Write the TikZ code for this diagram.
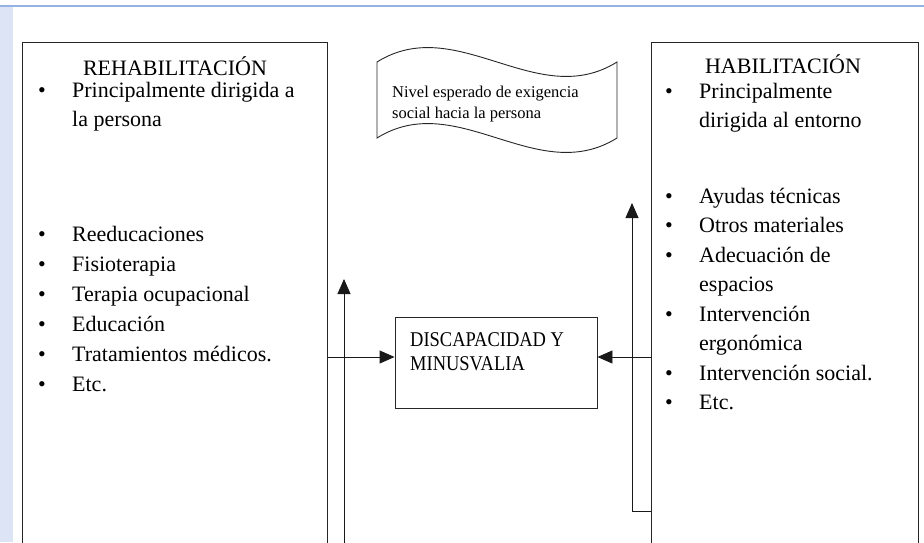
\documentclass[tikz,border=0pt]{standalone}
\usepackage{fontspec}
\setmainfont{Liberation Serif}
\newfontfamily\narrowfont[FakeStretch=0.88]{Liberation Serif}
\usetikzlibrary{arrows.meta}

\definecolor{framebg}{RGB}{221,228,245}
\definecolor{frameline}{RGB}{150,178,226}

\begin{document}
\begin{tikzpicture}[
    x = 1pt, y = -1pt,
    panel/.style = {draw = black!85, line width = 0.9pt, anchor = north west, inner sep = 0pt},
    head/.style = {font = \fontsize{22}{26}\selectfont, anchor = base, inner sep = 0pt},
    lst/.style = {font = \fontsize{22}{29.5}\selectfont, anchor = base west, inner sep = 0pt},
    arr/.style = {draw = black!90, line width = 0.9pt, -{Triangle[length = 15pt, width = 13pt]}}
]
\useasboundingbox (0,0) rectangle (924,542);
\clip (0,0) rectangle (924,542);

% page frame
\fill[framebg] (0,6) rectangle (13,542);
\draw[frameline, line width = 1.5pt] (0,6) -- (924,6);

% the two columns
\node[panel, minimum width = 305pt, minimum height = 560pt] (rehab) at (22,42) {};
\node[panel, minimum width = 267pt, minimum height = 560pt] (hab) at (651,42) {};

\node[head] (rehabtitle) at (175,75) {REHABILITACIÓN};
\node[head] (habtitle) at (783,73) {HABILITACIÓN};

\node[lst] (rehabaim) at (38,97) {\begin{tabular}[t]{@{}p{34pt}@{}l@{}}
    \textbullet & Principalmente dirigida a\\
                & la persona
\end{tabular}};
\node[lst, font = \fontsize{22}{30}\selectfont] (rehablist) at (38,241) {\begin{tabular}[t]{@{}p{34pt}@{}l@{}}
    \textbullet & Reeducaciones\\
    \textbullet & Fisioterapia\\
    \textbullet & Terapia ocupacional\\
    \textbullet & Educación\\
    \textbullet & Tratamientos médicos.\\
    \textbullet & Etc.
\end{tabular}};

\node[lst] (habaim) at (665,98) {\begin{tabular}[t]{@{}p{34pt}@{}l@{}}
    \textbullet & Principalmente\\
                & dirigida al entorno
\end{tabular}};
\node[lst] (hablist) at (665,203) {\begin{tabular}[t]{@{}p{34pt}@{}l@{}}
    \textbullet & Ayudas técnicas\\
    \textbullet & Otros materiales\\
    \textbullet & Adecuación de\\
                & espacios\\
    \textbullet & Intervención\\
                & ergonómica\\
    \textbullet & Intervención social.\\
    \textbullet & Etc.
\end{tabular}};

% wave banner
\draw[draw = black!85, line width = 0.9pt]
    (377,62) .. controls (457,12) and (537,112) .. (617,62)
    -- (617,138) .. controls (537,188) and (457,88) .. (377,138) -- cycle;
\node[lst, font = \fontsize{16.5}{21}\selectfont] (demand) at (392,97) {\begin{tabular}[t]{@{}l@{}}
    Nivel esperado de exigencia\\
    social hacia la persona
\end{tabular}};

% centre box
\node[draw = black!85, line width = 0.9pt, minimum width = 202pt, minimum height = 91pt] (disc) at (496,362.5) {};
\node[lst, font = \narrowfont\fontsize{21}{24}\selectfont] (disctext) at (410,346) {\begin{tabular}[t]{@{}l@{}}
    DISCAPACIDAD Y\\
    MINUSVALIA
\end{tabular}};

% connectors
\coordinate (mid) at ([yshift = 5.5pt]disc.west);
\coordinate (lfoot) at (344,560);
\coordinate (ltop) at (344,279);
\coordinate (rfoot) at (632,511);
\coordinate (rtop) at (632,203);

\draw[arr] (rehab.east |- mid) -- (mid);
\draw[arr] (hab.west |- mid) -- (disc.east |- mid);
\draw[arr] (lfoot) -- (ltop);
\draw[arr] (hab.west |- rfoot) -- (rfoot) -- (rtop);
\end{tikzpicture}
\end{document}
